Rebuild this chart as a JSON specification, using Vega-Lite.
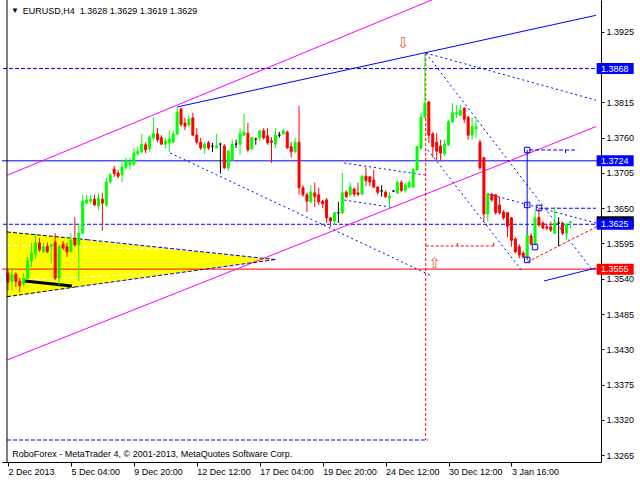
{
  "$schema": "https://vega.github.io/schema/vega-lite/v6.json",
  "width": 599,
  "height": 462,
  "autosize": "none",
  "padding": {"left": 2, "top": 0, "right": 39, "bottom": 18},
  "background": "white",
  "config": {
    "view": {"stroke": null},
    "axis": {"labelFont": "Liberation Sans", "labelFontSize": 9, "labelColor": "#000000", "domainColor": "#000000", "tickColor": "#000000", "grid": false},
    "text": {"font": "Liberation Sans", "fontSize": 9}
  },
  "datasets": {
    "candles": [
      {"i":0,"o":1.3549,"h":1.3554,"l":1.3522,"c":1.3535},
      {"i":1,"o":1.3536,"h":1.3557,"l":1.3522,"c":1.3546},
      {"i":2,"o":1.3547,"h":1.3550,"l":1.3527,"c":1.3536},
      {"i":3,"o":1.3536,"h":1.3541,"l":1.3519,"c":1.3529},
      {"i":4,"o":1.3532,"h":1.3549,"l":1.3527,"c":1.3541},
      {"i":5,"o":1.3541,"h":1.3574,"l":1.3538,"c":1.3568},
      {"i":6,"o":1.3568,"h":1.3596,"l":1.3558,"c":1.3580},
      {"i":7,"o":1.3579,"h":1.3610,"l":1.3572,"c":1.3596},
      {"i":8,"o":1.3596,"h":1.3604,"l":1.3582,"c":1.3585},
      {"i":9,"o":1.3582,"h":1.3596,"l":1.3580,"c":1.3590},
      {"i":10,"o":1.3591,"h":1.3597,"l":1.3580,"c":1.3582},
      {"i":11,"o":1.3590,"h":1.3594,"l":1.3564,"c":1.3593},
      {"i":12,"o":1.3597,"h":1.3611,"l":1.3538,"c":1.3541},
      {"i":13,"o":1.3541,"h":1.3593,"l":1.3530,"c":1.3591},
      {"i":14,"o":1.3594,"h":1.3599,"l":1.3585,"c":1.3588},
      {"i":15,"o":1.3590,"h":1.3596,"l":1.3574,"c":1.3582},
      {"i":16,"o":1.3582,"h":1.3611,"l":1.3582,"c":1.3600},
      {"i":17,"o":1.3602,"h":1.3636,"l":1.3590,"c":1.3593},
      {"i":18,"o":1.3593,"h":1.3626,"l":1.3536,"c":1.3611},
      {"i":19,"o":1.3611,"h":1.3671,"l":1.3610,"c":1.3661},
      {"i":20,"o":1.3658,"h":1.3671,"l":1.3657,"c":1.3663},
      {"i":21,"o":1.3661,"h":1.3671,"l":1.3657,"c":1.3664},
      {"i":22,"o":1.3664,"h":1.3671,"l":1.3654,"c":1.3655},
      {"i":23,"o":1.3654,"h":1.3674,"l":1.3647,"c":1.3666},
      {"i":24,"o":1.3664,"h":1.3674,"l":1.3615,"c":1.3658},
      {"i":25,"o":1.3655,"h":1.3697,"l":1.3652,"c":1.3691},
      {"i":26,"o":1.3691,"h":1.3705,"l":1.3688,"c":1.3702},
      {"i":27,"o":1.3711,"h":1.3716,"l":1.3699,"c":1.3704},
      {"i":28,"o":1.3705,"h":1.3710,"l":1.3697,"c":1.3700},
      {"i":29,"o":1.3702,"h":1.3725,"l":1.3691,"c":1.3714},
      {"i":30,"o":1.3714,"h":1.3729,"l":1.3710,"c":1.3725},
      {"i":31,"o":1.3718,"h":1.3729,"l":1.3710,"c":1.3722},
      {"i":32,"o":1.3719,"h":1.3744,"l":1.3716,"c":1.3736},
      {"i":33,"o":1.3735,"h":1.3746,"l":1.3732,"c":1.3739},
      {"i":34,"o":1.3738,"h":1.3766,"l":1.3736,"c":1.3750},
      {"i":35,"o":1.3749,"h":1.3753,"l":1.3736,"c":1.3741},
      {"i":36,"o":1.3743,"h":1.3764,"l":1.3738,"c":1.3761},
      {"i":37,"o":1.3760,"h":1.3792,"l":1.3757,"c":1.3767},
      {"i":38,"o":1.3766,"h":1.3775,"l":1.3753,"c":1.3757},
      {"i":39,"o":1.3760,"h":1.3764,"l":1.3749,"c":1.3750},
      {"i":40,"o":1.3750,"h":1.3760,"l":1.3743,"c":1.3755},
      {"i":41,"o":1.3752,"h":1.3771,"l":1.3738,"c":1.3758},
      {"i":42,"o":1.3753,"h":1.3771,"l":1.3752,"c":1.3766},
      {"i":43,"o":1.3766,"h":1.3808,"l":1.3764,"c":1.3800},
      {"i":44,"o":1.3805,"h":1.3806,"l":1.3777,"c":1.3781},
      {"i":45,"o":1.3783,"h":1.3791,"l":1.3772,"c":1.3778},
      {"i":46,"o":1.3780,"h":1.3795,"l":1.3777,"c":1.3789},
      {"i":47,"o":1.3791,"h":1.3799,"l":1.3763,"c":1.3764},
      {"i":48,"o":1.3764,"h":1.3775,"l":1.3749,"c":1.3753},
      {"i":49,"o":1.3753,"h":1.3760,"l":1.3741,"c":1.3744},
      {"i":50,"o":1.3744,"h":1.3753,"l":1.3735,"c":1.3750},
      {"i":51,"o":1.3752,"h":1.3755,"l":1.3741,"c":1.3744},
      {"i":52,"o":1.3747,"h":1.3752,"l":1.3738,"c":1.3747},
      {"i":53,"o":1.3744,"h":1.3766,"l":1.3744,"c":1.3747},
      {"i":54,"o":1.3750,"h":1.3752,"l":1.3704,"c":1.3750},
      {"i":55,"o":1.3747,"h":1.3750,"l":1.3711,"c":1.3713},
      {"i":56,"o":1.3713,"h":1.3741,"l":1.3708,"c":1.3739},
      {"i":57,"o":1.3725,"h":1.3757,"l":1.3725,"c":1.3750},
      {"i":58,"o":1.3750,"h":1.3757,"l":1.3744,"c":1.3750},
      {"i":59,"o":1.3750,"h":1.3775,"l":1.3733,"c":1.3766},
      {"i":60,"o":1.3764,"h":1.3797,"l":1.3764,"c":1.3769},
      {"i":61,"o":1.3767,"h":1.3783,"l":1.3738,"c":1.3741},
      {"i":62,"o":1.3743,"h":1.3761,"l":1.3741,"c":1.3760},
      {"i":63,"o":1.3758,"h":1.3760,"l":1.3749,"c":1.3758},
      {"i":64,"o":1.3760,"h":1.3771,"l":1.3755,"c":1.3771},
      {"i":65,"o":1.3771,"h":1.3775,"l":1.3757,"c":1.3760},
      {"i":66,"o":1.3763,"h":1.3775,"l":1.3749,"c":1.3752},
      {"i":67,"o":1.3755,"h":1.3761,"l":1.3721,"c":1.3753},
      {"i":68,"o":1.3750,"h":1.3775,"l":1.3744,"c":1.3764},
      {"i":69,"o":1.3764,"h":1.3769,"l":1.3760,"c":1.3764},
      {"i":70,"o":1.3766,"h":1.3774,"l":1.3764,"c":1.3771},
      {"i":71,"o":1.3769,"h":1.3771,"l":1.3743,"c":1.3744},
      {"i":72,"o":1.3746,"h":1.3753,"l":1.3729,"c":1.3738},
      {"i":73,"o":1.3738,"h":1.3760,"l":1.3736,"c":1.3753},
      {"i":74,"o":1.3753,"h":1.3810,"l":1.3671,"c":1.3682},
      {"i":75,"o":1.3682,"h":1.3686,"l":1.3668,"c":1.3671},
      {"i":76,"o":1.3671,"h":1.3674,"l":1.3644,"c":1.3661},
      {"i":77,"o":1.3660,"h":1.3686,"l":1.3658,"c":1.3675},
      {"i":78,"o":1.3674,"h":1.3690,"l":1.3652,"c":1.3668},
      {"i":79,"o":1.3671,"h":1.3682,"l":1.3655,"c":1.3660},
      {"i":80,"o":1.3661,"h":1.3663,"l":1.3650,"c":1.3657},
      {"i":81,"o":1.3663,"h":1.3666,"l":1.3627,"c":1.3635},
      {"i":82,"o":1.3635,"h":1.3636,"l":1.3621,"c":1.3630},
      {"i":83,"o":1.3630,"h":1.3644,"l":1.3624,"c":1.3643},
      {"i":84,"o":1.3643,"h":1.3660,"l":1.3627,"c":1.3643},
      {"i":85,"o":1.3643,"h":1.3705,"l":1.3641,"c":1.3674},
      {"i":86,"o":1.3675,"h":1.3678,"l":1.3666,"c":1.3668},
      {"i":87,"o":1.3671,"h":1.3690,"l":1.3668,"c":1.3683},
      {"i":88,"o":1.3680,"h":1.3682,"l":1.3668,"c":1.3672},
      {"i":89,"o":1.3674,"h":1.3690,"l":1.3669,"c":1.3672},
      {"i":90,"o":1.3672,"h":1.3702,"l":1.3671,"c":1.3700},
      {"i":91,"o":1.3700,"h":1.3714,"l":1.3685,"c":1.3693},
      {"i":92,"o":1.3699,"h":1.3700,"l":1.3685,"c":1.3691},
      {"i":93,"o":1.3694,"h":1.3710,"l":1.3682,"c":1.3683},
      {"i":94,"o":1.3683,"h":1.3685,"l":1.3671,"c":1.3675},
      {"i":95,"o":1.3677,"h":1.3686,"l":1.3668,"c":1.3677},
      {"i":96,"o":1.3675,"h":1.3678,"l":1.3666,"c":1.3668},
      {"i":97,"o":1.3666,"h":1.3675,"l":1.3652,"c":1.3669},
      {"i":98,"o":1.3677,"h":1.3678,"l":1.3675,"c":1.3677},
      {"i":99,"o":1.3674,"h":1.3694,"l":1.3672,"c":1.3690},
      {"i":100,"o":1.3690,"h":1.3694,"l":1.3675,"c":1.3678},
      {"i":101,"o":1.3678,"h":1.3690,"l":1.3674,"c":1.3686},
      {"i":102,"o":1.3683,"h":1.3693,"l":1.3682,"c":1.3690},
      {"i":103,"o":1.3683,"h":1.3713,"l":1.3682,"c":1.3710},
      {"i":104,"o":1.3710,"h":1.3747,"l":1.3708,"c":1.3746},
      {"i":105,"o":1.3744,"h":1.3799,"l":1.3741,"c":1.3792},
      {"i":106,"o":1.3792,"h":1.3892,"l":1.3791,"c":1.3814},
      {"i":107,"o":1.3816,"h":1.3817,"l":1.3752,"c":1.3764},
      {"i":108,"o":1.3766,"h":1.3769,"l":1.3729,"c":1.3746},
      {"i":109,"o":1.3753,"h":1.3767,"l":1.3725,"c":1.3739},
      {"i":110,"o":1.3747,"h":1.3757,"l":1.3724,"c":1.3736},
      {"i":111,"o":1.3735,"h":1.3757,"l":1.3732,"c":1.3750},
      {"i":112,"o":1.3749,"h":1.3788,"l":1.3747,"c":1.3785},
      {"i":113,"o":1.3785,"h":1.3814,"l":1.3783,"c":1.3799},
      {"i":114,"o":1.3797,"h":1.3811,"l":1.3791,"c":1.3799},
      {"i":115,"o":1.3795,"h":1.3811,"l":1.3794,"c":1.3803},
      {"i":116,"o":1.3806,"h":1.3808,"l":1.3783,"c":1.3789},
      {"i":117,"o":1.3792,"h":1.3794,"l":1.3757,"c":1.3764},
      {"i":118,"o":1.3764,"h":1.3792,"l":1.3757,"c":1.3777},
      {"i":119,"o":1.3774,"h":1.3791,"l":1.3760,"c":1.3777},
      {"i":120,"o":1.3753,"h":1.3757,"l":1.3710,"c":1.3713},
      {"i":121,"o":1.3729,"h":1.3730,"l":1.3629,"c":1.3641},
      {"i":122,"o":1.3641,"h":1.3674,"l":1.3629,"c":1.3672},
      {"i":123,"o":1.3672,"h":1.3674,"l":1.3660,"c":1.3663},
      {"i":124,"o":1.3671,"h":1.3672,"l":1.3640,"c":1.3643},
      {"i":125,"o":1.3655,"h":1.3668,"l":1.3640,"c":1.3643},
      {"i":126,"o":1.3644,"h":1.3647,"l":1.3632,"c":1.3635},
      {"i":127,"o":1.3643,"h":1.3644,"l":1.3605,"c":1.3622},
      {"i":128,"o":1.3635,"h":1.3636,"l":1.3590,"c":1.3600},
      {"i":129,"o":1.3602,"h":1.3605,"l":1.3580,"c":1.3582},
      {"i":130,"o":1.3590,"h":1.3594,"l":1.3572,"c":1.3577},
      {"i":131,"o":1.3580,"h":1.3583,"l":1.3572,"c":1.3574},
      {"i":132,"o":1.3574,"h":1.3611,"l":1.3572,"c":1.3608},
      {"i":133,"o":1.3607,"h":1.3611,"l":1.3593,"c":1.3594},
      {"i":134,"o":1.3594,"h":1.3647,"l":1.3593,"c":1.3635},
      {"i":135,"o":1.3636,"h":1.3650,"l":1.3621,"c":1.3624},
      {"i":136,"o":1.3627,"h":1.3630,"l":1.3618,"c":1.3619},
      {"i":137,"o":1.3621,"h":1.3626,"l":1.3616,"c":1.3619},
      {"i":138,"o":1.3621,"h":1.3629,"l":1.3613,"c":1.3616},
      {"i":139,"o":1.3611,"h":1.3652,"l":1.3610,"c":1.3627},
      {"i":140,"o":1.3627,"h":1.3636,"l":1.3591,"c":1.3627},
      {"i":141,"o":1.3627,"h":1.3629,"l":1.3608,"c":1.3611},
      {"i":142,"o":1.3611,"h":1.3627,"l":1.3600,"c":1.3624},
      {"i":143,"o":1.3628,"h":1.3629,"l":1.3619,"c":1.3629}
    ],
    "triangle": [
      {"i": -0.25, "top": 1.3613, "bot": 1.3512},
      {"i": 68, "top": 1.3570, "bot": 1.3570}
    ],
    "whiteDash": [
      {"s":"w1","i":-0.25,"p":1.35922},{"s":"w1","i":49.25,"p":1.35841},
      {"s":"w2","i":-0.25,"p":1.35365},{"s":"w2","i":39.25,"p":1.3549}
    ],
    "blackDash": [
      {"s":"t","i":-0.25,"p":1.3613},{"s":"t","i":20,"p":1.3601},
      {"s":"b","i":-0.25,"p":1.3512},{"s":"b","i":17,"p":1.3527}
    ],
    "blackThick": [
      {"s":"k","i":4.25,"p":1.35365},{"s":"k","i":16.25,"p":1.35287}
    ],
    "magenta": [
      {"s":"u","i":-0.25,"p":1.37013},{"s":"u","i":149.5,"p":1.40808},
      {"s":"l","i":-0.25,"p":1.34132},{"s":"l","i":149.5,"p":1.37774}
    ],
    "blueSolid": [
      {"s":"ch","i":43,"p":1.3808},{"s":"ch","i":149.5,"p":1.3951},
      {"s":"lo","i":136.25,"p":1.35365},{"s":"lo","i":149.5,"p":1.35568},
      {"s":"v","i":132,"p":1.37409},{"s":"v","i":132,"p":1.35693}
    ],
    "blueDot": [
      {"s":"a","i":41.25,"p":1.37362},{"s":"a","i":107.25,"p":1.35458},
      {"s":"b","i":106.25,"p":1.38922},{"s":"b","i":149.5,"p":1.38186},
      {"s":"c","i":106.25,"p":1.38922},{"s":"c","i":148.75,"p":1.35521},
      {"s":"d","i":106.75,"p":1.37409},{"s":"d","i":130.5,"p":1.35537},
      {"s":"e","i":122,"p":1.36722},{"s":"e","i":149.5,"p":1.3627},
      {"s":"w1","i":85.5,"p":1.37206},{"s":"w1","i":106,"p":1.37019},
      {"s":"w2","i":85.5,"p":1.36628},{"s":"w2","i":97.25,"p":1.36519}
    ],
    "blueDash": [
      {"s":"t2","i":20,"p":1.3601},{"s":"t2","i":68,"p":1.357},
      {"s":"b2","i":17,"p":1.3527},{"s":"b2","i":68,"p":1.357},
      {"s":"f","i":135,"p":1.365},{"s":"f","i":149.5,"p":1.365},
      {"s":"g","i":132.5,"p":1.37409},{"s":"g","i":144.75,"p":1.37409},
      {"s":"g2","i":141.75,"p":1.37409},{"s":"g2","i":141.75,"p":1.37362},
      {"s":"h","i":-0.25,"p":1.32884},{"s":"h","i":106.75,"p":1.32884}
    ],
    "redDash": [
      {"s":"v","i":106.2,"p":1.38922},{"s":"v","i":106.2,"p":1.32884},
      {"s":"hz","i":106.2,"p":1.35911},{"s":"hz","i":123.5,"p":1.35911},
      {"s":"t1","i":114.25,"p":1.35911},{"s":"t1","i":114.25,"p":1.35958},
      {"s":"t2","i":123.5,"p":1.35911},{"s":"t2","i":123.5,"p":1.35958},
      {"s":"dg","i":132,"p":1.35661},{"s":"dg","i":149.5,"p":1.36207}
    ],
    "squares": [
      {"i":132,"p":1.37409},{"i":132,"p":1.36551},{"i":132,"p":1.35693},
      {"i":135,"p":1.36504},{"i":134,"p":1.35895}
    ],
    "levelsBlueDash": [{"p":1.3868},{"p":1.3625}],
    "levelsBlueSolid": [{"p":1.3724}],
    "levelsRed": [{"p":1.3555}],
    "boxBlack": [{"p":1.3629,"t":"1.3629"}],
    "boxBlue": [{"p":1.3868,"t":"1.3868"},{"p":1.3724,"t":"1.3724"},{"p":1.3625,"t":"1.3625"}],
    "boxRed": [{"p":1.3555,"t":"1.3555"}]
  },
  "layer": [
    {
      "data": {"name": "triangle"},
      "mark": {"type": "area", "color": "#ffff00", "opacity": 1},
      "encoding": {
        "x": {"field": "i", "type": "quantitative", "title": null, "scale": {"domain": [-0.25, 149.5], "nice": false, "zero": false},
          "axis": {"orient": "bottom", "title": null, "values": [0,16,32,48,64,80,96,112,128], "tickSize": 4, "labelPadding": 1, "labelAlign": "left", "labelFlush": false, "labelOverlap": false, "labelBound": false, "grid": false,
            "labelExpr": "datum.value==0?'2 Dec 2013':datum.value==16?'5 Dec 04:00':datum.value==32?'9 Dec 20:00':datum.value==48?'12 Dec 12:00':datum.value==64?'17 Dec 04:00':datum.value==80?'19 Dec 20:00':datum.value==96?'24 Dec 12:00':datum.value==112?'30 Dec 12:00':'3 Jan 16:00'"}},
        "y": {"field": "top", "type": "quantitative", "title": null, "scale": {"domain": [1.32541, 1.39749], "nice": false, "zero": false},
          "axis": {"orient": "right", "title": null, "values": [1.3265,1.332,1.3375,1.343,1.3485,1.354,1.3595,1.365,1.3705,1.376,1.3815,1.3925], "format": ".4f", "tickSize": 3, "labelPadding": 2, "labelFlush": false, "labelOverlap": false, "grid": false}},
        "y2": {"field": "bot"}
      }
    },
    {
      "data": {"name": "whiteDash"},
      "mark": {"type": "line", "color": "#ffffff", "strokeWidth": 1, "strokeDash": [4, 3]},
      "encoding": {"x": {"field": "i", "type": "quantitative", "title": null}, "y": {"field": "p", "type": "quantitative", "title": null}, "detail": {"field": "s"}}
    },
    {
      "data": {"name": "blackDash"},
      "mark": {"type": "line", "color": "#000000", "strokeWidth": 1, "strokeDash": [4, 2]},
      "encoding": {"x": {"field": "i", "type": "quantitative", "title": null}, "y": {"field": "p", "type": "quantitative", "title": null}, "detail": {"field": "s"}}
    },
    {
      "data": {"name": "levelsBlueDash"},
      "mark": {"type": "rule", "color": "#0000ff", "strokeWidth": 1, "strokeDash": [4, 2]},
      "encoding": {"y": {"field": "p", "type": "quantitative", "title": null}}
    },
    {
      "data": {"name": "levelsBlueSolid"},
      "mark": {"type": "rule", "color": "#0000ff", "strokeWidth": 1},
      "encoding": {"y": {"field": "p", "type": "quantitative", "title": null}}
    },
    {
      "data": {"name": "levelsRed"},
      "mark": {"type": "rule", "color": "#ff0000", "strokeWidth": 1},
      "encoding": {"y": {"field": "p", "type": "quantitative", "title": null}}
    },
    {
      "data": {"name": "magenta"},
      "mark": {"type": "line", "color": "#ff00ff", "strokeWidth": 1, "clip": true},
      "encoding": {"x": {"field": "i", "type": "quantitative", "title": null}, "y": {"field": "p", "type": "quantitative", "title": null}, "detail": {"field": "s"}}
    },
    {
      "data": {"name": "blueSolid"},
      "mark": {"type": "line", "color": "#0000ff", "strokeWidth": 1, "clip": true},
      "encoding": {"x": {"field": "i", "type": "quantitative", "title": null}, "y": {"field": "p", "type": "quantitative", "title": null}, "detail": {"field": "s"}}
    },
    {
      "data": {"name": "blueDot"},
      "mark": {"type": "line", "color": "#0000ff", "strokeWidth": 1, "strokeDash": [2, 3], "clip": true},
      "encoding": {"x": {"field": "i", "type": "quantitative", "title": null}, "y": {"field": "p", "type": "quantitative", "title": null}, "detail": {"field": "s"}}
    },
    {
      "data": {"name": "blueDash"},
      "mark": {"type": "line", "color": "#0000ff", "strokeWidth": 1, "strokeDash": [4, 2], "clip": true},
      "encoding": {"x": {"field": "i", "type": "quantitative", "title": null}, "y": {"field": "p", "type": "quantitative", "title": null}, "detail": {"field": "s"}}
    },
    {
      "data": {"name": "redDash"},
      "mark": {"type": "line", "color": "#ff0000", "strokeWidth": 1, "strokeDash": [3, 2], "clip": true},
      "encoding": {"x": {"field": "i", "type": "quantitative", "title": null}, "y": {"field": "p", "type": "quantitative", "title": null}, "detail": {"field": "s"}}
    },
    {
      "data": {"name": "blackThick"},
      "mark": {"type": "line", "color": "#000000", "strokeWidth": 3},
      "encoding": {"x": {"field": "i", "type": "quantitative", "title": null}, "y": {"field": "p", "type": "quantitative", "title": null}, "detail": {"field": "s"}}
    },
    {
      "data": {"name": "candles"},
      "mark": {"type": "rule", "strokeWidth": 1},
      "encoding": {
        "x": {"field": "i", "type": "quantitative", "title": null},
        "y": {"field": "l", "type": "quantitative", "title": null},
        "y2": {"field": "h"},
        "color": {"condition": [{"test": "datum.c > datum.o", "value": "#00ff00"}, {"test": "datum.c < datum.o", "value": "#ff0000"}], "value": "#000000"}
      }
    },
    {
      "data": {"name": "candles"},
      "mark": {"type": "bar", "orient": "vertical", "size": 2, "strokeWidth": 1},
      "encoding": {
        "x": {"field": "i", "type": "quantitative", "title": null},
        "y": {"field": "o", "type": "quantitative", "title": null},
        "y2": {"field": "c"},
        "fill": {"condition": [{"test": "datum.c > datum.o", "value": "#00ff00"}, {"test": "datum.c < datum.o", "value": "#ff0000"}], "value": "#000000"},
        "stroke": {"condition": [{"test": "datum.c > datum.o", "value": "#00ff00"}, {"test": "datum.c < datum.o", "value": "#ff0000"}], "value": "#000000"}
      }
    },
    {
      "data": {"name": "squares"},
      "mark": {"type": "point", "shape": "square", "size": 30, "filled": false, "color": "#0000ff", "strokeWidth": 1, "opacity": 1},
      "encoding": {"x": {"field": "i", "type": "quantitative", "title": null}, "y": {"field": "p", "type": "quantitative", "title": null}}
    },
    {
      "data": {"values": [{}]},
      "mark": {"type": "text", "text": "⇩", "font": "DejaVu Sans", "fontSize": 15, "color": "#f05a46", "align": "center", "baseline": "middle"},
      "encoding": {"x": {"datum": 100.5, "type": "quantitative", "title": null}, "y": {"datum": 1.3908, "type": "quantitative", "title": null}}
    },
    {
      "data": {"values": [{}]},
      "mark": {"type": "text", "text": "⇧", "font": "DejaVu Sans", "fontSize": 15, "color": "#f05a46", "align": "center", "baseline": "middle"},
      "encoding": {"x": {"datum": 108.5, "type": "quantitative", "title": null}, "y": {"datum": 1.3565, "type": "quantitative", "title": null}}
    },
    {
      "data": {"values": [{}]},
      "mark": {"type": "text", "text": "▼", "fontSize": 8, "color": "#000000", "align": "center", "baseline": "middle"},
      "encoding": {"x": {"datum": 1.75, "type": "quantitative", "title": null}, "y": {"datum": 1.3958, "type": "quantitative", "title": null}}
    },
    {
      "data": {"values": [{}]},
      "mark": {"type": "text", "text": "EURUSD,H4\u00a0 1.3628 1.3629 1.3619 1.3629", "fontSize": 9, "color": "#000000", "align": "left", "baseline": "middle"},
      "encoding": {"x": {"datum": 3.75, "type": "quantitative", "title": null}, "y": {"datum": 1.3958, "type": "quantitative", "title": null}}
    },
    {
      "data": {"values": [{}]},
      "mark": {"type": "text", "text": "RoboForex - MetaTrader 4, © 2001-2013, MetaQuotes Software Corp.", "fontSize": 9, "color": "#000000", "align": "left", "baseline": "middle"},
      "encoding": {"x": {"datum": 1.1, "type": "quantitative", "title": null}, "y": {"datum": 1.3266, "type": "quantitative", "title": null}}
    },
    {
      "data": {"values": [{}]},
      "mark": {"type": "rule", "color": "#000000", "strokeWidth": 1},
      "encoding": {"x": {"datum": -0.25, "type": "quantitative", "title": null}}
    },
    {
      "data": {"name": "boxBlack"},
      "mark": {"type": "tick", "orient": "horizontal", "size": 37, "thickness": 11, "color": "#000000", "opacity": 1},
      "encoding": {"x": {"datum": 154.375, "type": "quantitative", "title": null}, "y": {"field": "p", "type": "quantitative", "title": null}}
    },
    {
      "data": {"name": "boxBlue"},
      "mark": {"type": "tick", "orient": "horizontal", "size": 37, "thickness": 11, "color": "#0000ff", "opacity": 1},
      "encoding": {"x": {"datum": 154.375, "type": "quantitative", "title": null}, "y": {"field": "p", "type": "quantitative", "title": null}}
    },
    {
      "data": {"name": "boxRed"},
      "mark": {"type": "tick", "orient": "horizontal", "size": 37, "thickness": 11, "color": "#ff0000", "opacity": 1},
      "encoding": {"x": {"datum": 154.375, "type": "quantitative", "title": null}, "y": {"field": "p", "type": "quantitative", "title": null}}
    },
    {
      "data": {"name": "boxBlue"},
      "mark": {"type": "text", "fontSize": 9, "color": "#ffffff", "align": "left", "baseline": "middle"},
      "encoding": {"x": {"datum": 150.75, "type": "quantitative", "title": null}, "y": {"field": "p", "type": "quantitative", "title": null}, "text": {"field": "t"}}
    },
    {
      "data": {"name": "boxRed"},
      "mark": {"type": "text", "fontSize": 9, "color": "#ffffff", "align": "left", "baseline": "middle"},
      "encoding": {"x": {"datum": 150.75, "type": "quantitative", "title": null}, "y": {"field": "p", "type": "quantitative", "title": null}, "text": {"field": "t"}}
    }
  ]
}
